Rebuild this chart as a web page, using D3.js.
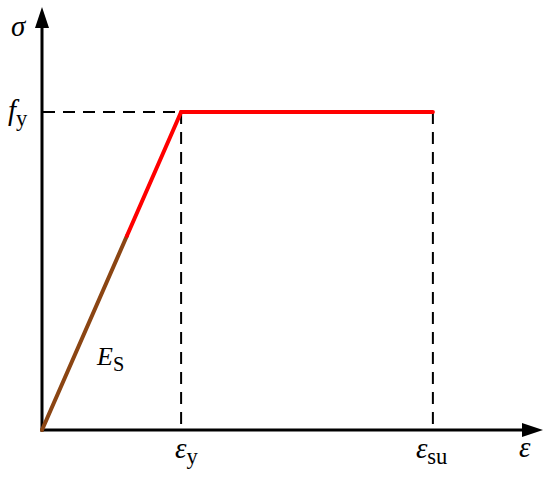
<!DOCTYPE html>
<html>
<head>
<meta charset="utf-8">
<script src="https://cdn.jsdelivr.net/npm/d3@7"></script>
<style>
  body { margin: 0; background: #fff; }
  text { font-family: "Liberation Serif", "Times New Roman", serif; }
</style>
</head>
<body>
<script>
// strain values (normalised by eps_y) and stress (normalised by f_y)
let strain = [0, 0.61, 1, 2.81];
let stress = [0, 0.61, 1, 1];
let segColors = ['#8b4513', '#ff0000', '#ff0000'];
let xTickVals = [1, 2.81];
let xTickLabels = [['ε', 'y'], ['ε', 'su']];

let svgWidth = 550;
let svgHeight = 480;

let x = d3.scaleLinear().domain([0, 3.58]).range([42, 540]);
let y = d3.scaleLinear().domain([0, 1.33]).range([430, 7]);

let svg = d3.select('body')
  .append('svg')
  .attr('width', svgWidth)
  .attr('height', svgHeight);

// dashed guides
svg.append('line')
  .attr('x1', x(0) + 1).attr('x2', x(strain[2]))
  .attr('y1', y(1)).attr('y2', y(1))
  .attr('stroke', '#000').attr('stroke-width', 2)
  .attr('stroke-dasharray', '12,8');

svg.selectAll('.vguide')
  .data(xTickVals)
  .enter()
  .append('line')
  .attr('class', 'vguide')
  .attr('x1', d => x(d)).attr('x2', d => x(d))
  .attr('y1', y(1)).attr('y2', y(0))
  .attr('stroke', '#000').attr('stroke-width', 2)
  .attr('stroke-dasharray', '12,8');

// axes with arrows
svg.append('line')
  .attr('x1', x(0)).attr('x2', x(0))
  .attr('y1', y(0) + 1.5).attr('y2', 24)
  .attr('stroke', '#000').attr('stroke-width', 3);
svg.append('path')
  .attr('d', `M${x(0)},7 L${x(0) - 7},28 L${x(0) + 7},28 Z`)
  .attr('fill', '#000');

svg.append('line')
  .attr('x1', x(0) - 1.5).attr('x2', 526)
  .attr('y1', y(0)).attr('y2', y(0))
  .attr('stroke', '#000').attr('stroke-width', 3);
svg.append('path')
  .attr('d', `M543,${y(0)} L522,${y(0) - 7} L522,${y(0) + 7} Z`)
  .attr('fill', '#000');

// stress-strain curve
let segs = d3.range(strain.length - 1).map(i => ({
  x1: strain[i], y1: stress[i], x2: strain[i + 1], y2: stress[i + 1], c: segColors[i]
}));

svg.selectAll('.seg')
  .data(segs)
  .enter()
  .append('line')
  .attr('class', 'seg')
  .attr('x1', d => x(d.x1)).attr('y1', d => y(d.y1))
  .attr('x2', d => x(d.x2)).attr('y2', d => y(d.y2))
  .attr('stroke', d => d.c)
  .attr('stroke-width', 4)
  .attr('stroke-linecap', 'round');

// labels
function label(xp, yp, main, sub, size) {
  let t = svg.append('text')
    .attr('x', xp).attr('y', yp)
    .attr('font-size', size + 'px');
  t.append('tspan')
    .attr('font-style', 'italic')
    .text(main);
  if (sub) {
    t.append('tspan')
      .attr('dy', 6)
      .attr('font-size', (size * 0.78) + 'px')
      .text(sub);
  }
  return t;
}

label(11, 36, 'σ', null, 29);
label(8, 120, 'f', 'y', 29);
label(97, 365, 'E', 'S', 26);
label(x(xTickVals[0]) - 6, 458, xTickLabels[0][0], xTickLabels[0][1], 29);
label(x(xTickVals[1]) - 17, 458, xTickLabels[1][0], xTickLabels[1][1], 29);
label(519, 457, 'ε', null, 29);
</script>
</body>
</html>
